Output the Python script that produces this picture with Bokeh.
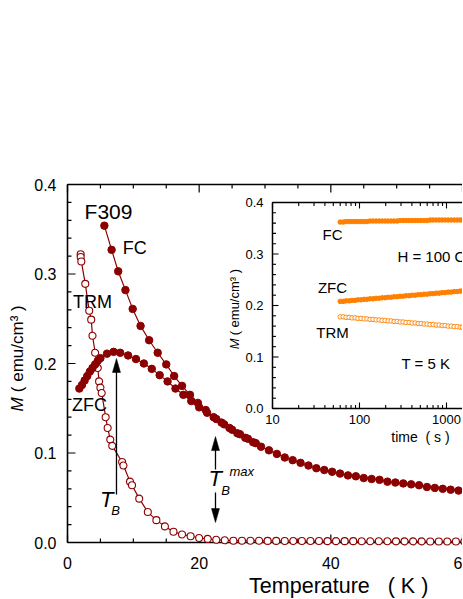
import math
from bokeh.plotting import figure
from bokeh.models import Range1d, LogScale
from bokeh.embed import file_html
from bokeh.resources import INLINE
from bokeh.core.properties import value

# ---------------- data (main panel) ----------------
fc_T = [5.6, 6.7, 7.7, 8.8, 9.9, 11.1, 12.4, 13.7, 15.0, 16.2, 17.4, 18.6, 19.8, 21.0,
        22.2, 23.4, 24.6, 25.8, 27.0, 28.2, 29.4, 30.6, 31.8, 33.0, 34.2, 35.4, 36.6,
        37.8, 39.0, 40.2, 41.4, 42.6, 43.8, 45.0, 46.2, 47.4, 48.6, 49.8, 51.0, 52.2,
        53.4, 54.6, 55.8, 57.0, 58.2, 59.4, 60.6]
fc_M = [0.354, 0.327, 0.303, 0.282, 0.261, 0.242, 0.226, 0.212, 0.199, 0.186, 0.175, 0.165,
        0.156, 0.148, 0.140, 0.134, 0.128, 0.122, 0.117, 0.112, 0.107, 0.103, 0.099, 0.095,
        0.092, 0.089, 0.086, 0.083, 0.081, 0.079, 0.077, 0.075, 0.074, 0.072, 0.071, 0.070,
        0.068, 0.067, 0.066, 0.065, 0.064, 0.062, 0.061, 0.060, 0.059, 0.058, 0.057]

zfc_T = [1.8, 2.2, 2.6, 3.0, 3.4, 3.8, 4.2, 4.6, 5.0, 6.0, 7.0, 8.0, 9.2, 10.4, 11.6, 12.8,
         14.0, 15.2, 16.4, 17.6, 18.8, 20.0, 21.2, 22.6, 23.8, 25.0, 26.2, 27.4, 28.6]
zfc_M = [0.172, 0.176, 0.181, 0.186, 0.191, 0.195, 0.199, 0.203, 0.206, 0.211, 0.213, 0.212,
         0.209, 0.205, 0.200, 0.194, 0.187, 0.180, 0.172, 0.165, 0.158, 0.151, 0.145, 0.138,
         0.132, 0.126, 0.121, 0.116, 0.111]

trm_T = [2.0, 2.0, 2.1, 2.7, 3.3, 3.6, 3.8, 4.2, 4.6, 4.8, 5.0, 5.2, 5.8, 6.1, 6.5, 6.8,
         8.3, 8.5, 9.5, 9.8, 10.9, 12.2, 13.5, 14.8, 16.1, 17.4, 18.7, 20.0, 21.3, 22.6,
         23.9, 25.2, 26.5, 27.8, 29.1, 30.4, 31.7, 33.0, 34.3, 35.6, 36.9, 38.2, 39.5,
         40.8, 42.1, 43.4, 44.7, 46.0, 47.3, 48.6, 49.9, 51.2, 52.5, 53.8, 55.1, 56.4,
         57.7, 59.0, 60.3]
trm_M = [0.322, 0.319, 0.314, 0.289, 0.259, 0.249, 0.231, 0.212, 0.195, 0.180, 0.173, 0.167,
         0.140, 0.128, 0.115, 0.108, 0.090, 0.086, 0.068, 0.064, 0.049, 0.034, 0.025, 0.018,
         0.012, 0.009, 0.007, 0.005, 0.004, 0.003, 0.0025, 0.002, 0.002, 0.002, 0.002,
         0.0018, 0.0018, 0.0017, 0.0017, 0.0016, 0.0016, 0.0016, 0.0015, 0.0015, 0.0015,
         0.0015, 0.0014, 0.0014, 0.0014, 0.0014, 0.0013, 0.0013, 0.0013, 0.0013, 0.0012,
         0.0012, 0.0012, 0.0012, 0.0012]

x_lim_main = [0, 60]
y_lim_main = [0.0, 0.4]
x_ticks_main = [0, 20, 40, 60]
x_minor_main = [5, 10, 15, 25, 30, 35, 45, 50, 55]
y_ticks_main = [0.0, 0.1, 0.2, 0.3, 0.4]

# ---------------- data (inset) ----------------
t_in = [60, 65, 70, 76, 82, 89, 96, 104, 113, 122, 132, 143, 155, 168, 182, 197, 213, 231,
        250, 271, 293, 317, 343, 372, 402, 436, 472, 511, 553, 599, 648, 702, 760, 823,
        891, 965, 1045, 1131, 1225, 1326, 1436, 1520]
fc_in = [0.362, 0.362, 0.363, 0.363, 0.363, 0.363, 0.363, 0.363, 0.363, 0.363, 0.364, 0.364,
         0.364, 0.364, 0.364, 0.364, 0.364, 0.364, 0.364, 0.364, 0.365, 0.365, 0.365, 0.365,
         0.365, 0.365, 0.365, 0.365, 0.365, 0.365, 0.366, 0.366, 0.366, 0.366, 0.366, 0.366,
         0.366, 0.366, 0.366, 0.366, 0.366, 0.366]
zfc_in = [0.208, 0.208, 0.209, 0.209, 0.210, 0.210, 0.211, 0.211, 0.212, 0.212, 0.213, 0.213,
          0.214, 0.214, 0.215, 0.215, 0.216, 0.216, 0.217, 0.217, 0.218, 0.218, 0.219, 0.219,
          0.220, 0.220, 0.221, 0.221, 0.222, 0.222, 0.223, 0.223, 0.224, 0.224, 0.225, 0.225,
          0.226, 0.226, 0.227, 0.227, 0.228, 0.228]
trm_in = [0.178, 0.178, 0.177, 0.177, 0.176, 0.176, 0.175, 0.175, 0.174, 0.174, 0.173, 0.173,
          0.172, 0.172, 0.171, 0.171, 0.170, 0.170, 0.169, 0.169, 0.168, 0.168, 0.167, 0.167,
          0.166, 0.166, 0.165, 0.165, 0.164, 0.164, 0.163, 0.163, 0.162, 0.162, 0.161, 0.161,
          0.160, 0.160, 0.159, 0.159, 0.158, 0.158]
x_lim_in = [10, 1e5]
y_lim_in = [0.0, 0.4]
x_ticks_in = [10, 100, 1000]
x_tick_labels_in = ["10", "100", "1000"]
y_ticks_in = [0.0, 0.1, 0.2, 0.3, 0.4]

# ---------------- geometry / styling ----------------
DR = "#8b0000"
OR = "#ff8000"
FONT = "Liberation Sans"
NB = "\u00a0"

W, H = 462, 598
OFF = 1
# main axes box in canvas pixels
BL, BR, BT, BB = 68 - OFF, 463 - OFF, 185 - OFF, 543 - OFF
kx = (x_lim_main[1] - x_lim_main[0]) / (BR - BL)
ky = (y_lim_main[1] - y_lim_main[0]) / (BB - BT)
xr0 = x_lim_main[0] - BL * kx
xr1 = x_lim_main[1] + (W - BR) * kx
yr0 = y_lim_main[0] - (H - BB) * ky
yr1 = y_lim_main[1] + BT * ky

p = figure(width=W, height=H, output_backend="svg", toolbar_location=None, title=None,
           x_range=Range1d(xr0, xr1), y_range=Range1d(yr0, yr1),
           x_axis_location=None, y_axis_location=None, min_border=0)
p.outline_line_color = None
p.background_fill_color = "white"
p.border_fill_color = "white"
p.xgrid.visible = False
p.ygrid.visible = False
for g in p.grid:
    g.grid_line_color = None

# inset scales (log time axis) mapped onto the same frame
IL, IT, IB = 273 - OFF, 203 - OFF, 409 - OFF
DEC = 87.0
lx0 = 1 - IL / DEC
lx1 = lx0 + W / DEC
kyi = (y_lim_in[1] - y_lim_in[0]) / (IB - IT)
iy0 = y_lim_in[0] - (H - IB) * kyi
iy1 = iy0 + H * kyi
p.extra_x_ranges = {"ix": Range1d(10 ** lx0, 10 ** lx1)}
p.extra_x_scales = {"ix": LogScale()}
p.extra_y_ranges = {"iy": Range1d(iy0, iy1)}
R = dict(x_range_name="ix", y_range_name="iy")


def txt(x, y, s, size, style="normal", align="center", angle=0.0, baseline="middle",
        xo=0, yo=0, **kw):
    p.text(x=x if isinstance(x, list) else [x], y=y if isinstance(y, list) else [y],
           text=s if isinstance(s, list) else [s], text_font=value(FONT),
           text_font_size=size, text_font_style=style, text_align=align,
           text_baseline=baseline, angle=angle, x_offset=xo, y_offset=yo,
           text_color="black", **kw)


# ---------------- main axes ----------------
x_end = xr1 + 1
p.segment(x0=[x_lim_main[0], x_lim_main[0], x_lim_main[0]],
          y0=[y_lim_main[0], y_lim_main[0], y_lim_main[1]],
          x1=[x_lim_main[0], x_end, x_end],
          y1=[y_lim_main[1], y_lim_main[0], y_lim_main[1]],
          line_color="black", line_width=1.6)
y_minor_main = [round(0.02 * k, 3) for k in range(1, 20) if k % 5 != 0]
TK = dict(length_units="screen", line_color="black", line_width=1.2)
p.ray(x=x_ticks_main, y=[y_lim_main[0]] * 4, length=8, angle=math.pi / 2, **TK)
p.ray(x=x_minor_main, y=[y_lim_main[0]] * len(x_minor_main), length=4, angle=math.pi / 2, **TK)
p.ray(x=x_ticks_main, y=[y_lim_main[1]] * 4, length=8, angle=-math.pi / 2, **TK)
p.ray(x=x_minor_main, y=[y_lim_main[1]] * len(x_minor_main), length=4, angle=-math.pi / 2, **TK)
p.ray(x=[x_lim_main[0]] * 5, y=y_ticks_main, length=8, angle=0, **TK)
p.ray(x=[x_lim_main[0]] * len(y_minor_main), y=y_minor_main, length=4, angle=0, **TK)

txt(x_ticks_main, [y_lim_main[0]] * 4, [str(v) for v in x_ticks_main], "16px", yo=20)
txt([x_lim_main[0]] * 5, y_ticks_main, ["%.1f" % v for v in y_ticks_main], "16px",
    align="right", xo=-11)

# axis titles
txt(41.2, -0.0485, "Temperature" + NB * 3 + "(" + NB + "K" + NB + ")", "21.5px")
txt(-7.6, 0.1464, "M", "17px", "italic", align="left", angle=math.pi / 2)
txt(-7.6, 0.1680, "(" + NB + "emu/cm\u00b3" + NB + ")", "17px", align="left", angle=math.pi / 2)

# ---------------- main data ----------------
p.line(trm_T, trm_M, color=DR, line_width=1.2)
p.scatter(trm_T, trm_M, size=7, fill_color="white", line_color=DR, line_width=1.1)
p.line(fc_T, fc_M, color=DR, line_width=1.2)
p.scatter(fc_T, fc_M, size=7.5, fill_color=DR, line_color=DR)
p.line(zfc_T, zfc_M, color=DR, line_width=1.2)
p.scatter(zfc_T, zfc_M, size=7.5, fill_color=DR, line_color=DR)

# ---------------- main annotations ----------------
txt(6.23, 0.370, "F309", "21px")
txt(10.2, 0.3285, "FC", "18px")
txt(3.8, 0.269, "TRM", "18px")
txt(3.35, 0.154, "ZFC", "18px")
txt(5.95, 0.0475, "T", "22px", "italic")
txt(7.3, 0.0355, "B", "13px", "italic")
txt(22.45, 0.0715, "T", "22px", "italic")
txt(24.0, 0.0581, "B", "13px", "italic")
txt(24.6, 0.0793, "max", "13px", "italic", align="left")


def arrow(x, y_tail, y_tip):
    d = 1 if y_tip > y_tail else -1
    hl, hw = 14 * ky, 4 * kx
    p.segment(x0=[x], y0=[y_tail], x1=[x], y1=[y_tip - d * hl * 0.8],
              line_color="black", line_width=1.3)
    p.patch(x=[x, x - hw, x + hw], y=[y_tip, y_tip - d * hl, y_tip - d * hl],
            fill_color="black", line_color="black", line_width=0.5)


arrow(7.44, 0.0536, 0.2056)
arrow(22.48, 0.0816, 0.1184)
arrow(22.48, 0.0559, 0.0223)

# ---------------- inset ----------------
p.quad(left=[x_lim_in[0]], right=[x_lim_in[1]], bottom=[y_lim_in[0]], top=[y_lim_in[1]],
       fill_color="white", line_color="black", line_width=1.5, **R)

y_minor_in = [round(0.02 * k, 3) for k in range(1, 20) if k % 5 != 0]
x_minor_in = [m * 10 ** d for d in (1, 2, 3) for m in range(2, 10)]
TI = dict(length_units="screen", line_color="black", line_width=1.1, **R)
p.ray(x=[x_lim_in[0]] * 5, y=y_ticks_in, length=6, angle=0, **TI)
p.ray(x=[x_lim_in[0]] * len(y_minor_in), y=y_minor_in, length=3.5, angle=0, **TI)
p.ray(x=x_ticks_in, y=[y_lim_in[0]] * 3, length=6, angle=math.pi / 2, **TI)
p.ray(x=x_minor_in, y=[y_lim_in[0]] * len(x_minor_in), length=3.5, angle=math.pi / 2, **TI)
p.ray(x=x_ticks_in, y=[y_lim_in[1]] * 3, length=6, angle=-math.pi / 2, **TI)
p.ray(x=x_minor_in, y=[y_lim_in[1]] * len(x_minor_in), length=3.5, angle=-math.pi / 2, **TI)

txt([x_lim_in[0]] * 5, y_ticks_in, ["%.1f" % v for v in y_ticks_in], "13px",
    align="right", xo=-9, **R)
txt(x_ticks_in, [y_lim_in[0]] * 3, x_tick_labels_in, "13px", yo=11, **R)

p.scatter(t_in, fc_in, size=4.5, fill_color=OR, line_color=OR, **R)
p.scatter(t_in, zfc_in, size=4.5, fill_color=OR, line_color=OR, **R)
p.scatter(t_in, trm_in, size=4.5, fill_color="white", line_color=OR, line_width=0.9, **R)

txt(48.9, 0.338, "FC", "15px", **R)
txt(48.9, 0.235, "ZFC", "15px", **R)
txt(48.9, 0.148, "TRM", "15px", **R)
txt(273, 0.295, "H = 100 Oe", "15px", align="left", **R)
txt(304, 0.087, "T = 5 K", "15px", align="left", **R)
txt(502, -0.056, "time" + NB + NB + "(" + NB + "s" + NB + ")", "14px", **R)
txt(3.66, 0.115, "M", "13px", "italic", align="left", angle=math.pi / 2, **R)
txt(3.66, 0.142, "(" + NB + "emu/cm\u00b3" + NB + ")", "13px", align="left",
    angle=math.pi / 2, **R)

open("out.html", "w").write(file_html(p, INLINE))
